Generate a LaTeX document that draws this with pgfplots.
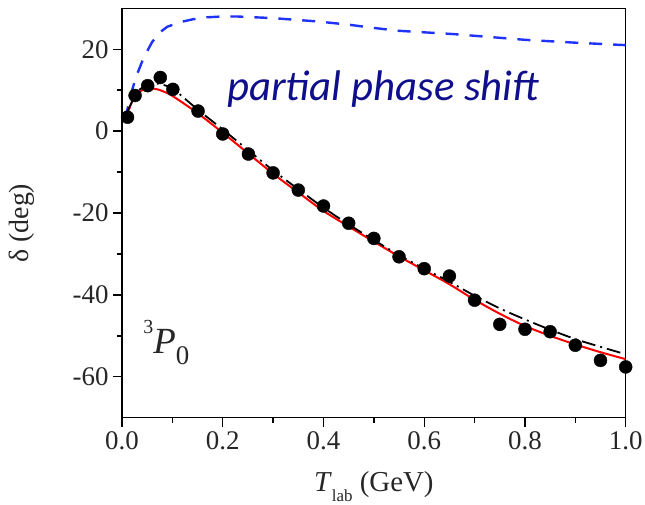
\documentclass[border=0pt]{standalone}
\usepackage{pgfplots}
\pgfplotsset{compat=1.18}
\usepackage{fontspec}
\setmainfont{Liberation Serif}
\newfontfamily\carlito{Carlito}
\definecolor{navy}{RGB}{15,15,140}
\definecolor{dblue}{RGB}{30,50,250}
\begin{document}
\begin{tikzpicture}
\path[use as bounding box] (-122bp,-87.3bp) rectangle (523bp,417.7bp);
\begin{axis}[
  at={(0,0)}, anchor=south west,
  scale only axis, width=503.7bp, height=409.4bp,
  xmin=0, xmax=1, ymin=-70, ymax=30,
  xtick={0,0.2,0.4,0.6,0.8,1.0},
  ytick={-60,-40,-20,0,20},
  xticklabels={0.0,0.2,0.4,0.6,0.8,1.0},
  minor tick num=1,
  tick align=outside, tick pos=left,
  major tick length=9bp, minor tick length=5bp,
  every tick/.style={black, line width=1.4bp},
  axis line style={line width=1.4bp},
  /pgf/number format/assume math mode=true,
  ticklabel style={font=\fontsize{27}{29}\selectfont, text=black!85},
  xticklabel style={yshift=-1bp},
  yticklabel style={xshift=-1bp},
  xlabel={\textit{T}\raisebox{-10bp}{\fontsize{17}{17}\selectfont lab} (GeV)},
  xlabel style={at={(axis description cs:0.5,0)}, anchor=base, yshift=-74bp, font=\fontsize{29}{31}\selectfont, text=black!85},
  ylabel={δ (deg)},
  ylabel style={at={(rel axis cs:-0.1985,0.475)}, anchor=center, rotate=0, font=\fontsize{28}{30}\selectfont, text=black!85},
  clip=true,
]
\addplot[dblue, line width=2.4bp, dash pattern=on 13bp off 11bp] coordinates {
(0.005,3) (0.011,5.4) (0.02,10) (0.029,13.6) (0.04,17) (0.049,19.3) (0.06,21.8)
(0.075,24.1) (0.09,25.5) (0.115,26.6) (0.14,27.3) (0.168,27.8) (0.2,28.0)
(0.228,28.0) (0.3,27.6) (0.387,26.8) (0.45,26.0) (0.5,25.2) (0.55,24.5)
(0.658,23.7) (0.8,22.3) (0.9,21.6) (1.0,21.0)};
\addplot[red, line width=2bp, smooth] coordinates {
(0.01,4) (0.02,7.2) (0.03,9.0) (0.04,10.0) (0.05,10.3) (0.06,10.4) (0.07,10.2)
(0.08,9.8) (0.1,8.6) (0.15,4.4) (0.2,-0.4) (0.25,-5.4) (0.3,-10.4) (0.35,-15.0)
(0.4,-19.5) (0.45,-23.3) (0.5,-27.0) (0.55,-30.6) (0.6,-34.0) (0.65,-37.4)
(0.7,-41.2) (0.75,-44.6) (0.8,-47.6) (0.85,-50.0) (0.9,-52.1) (0.95,-54.0) (1.0,-55.7)};
\addplot[black, line width=1.8bp, smooth, dash pattern=on 14bp off 5bp on 2bp off 5bp] coordinates {
(0.01,4.5) (0.03,9.5) (0.05,11.2) (0.07,11.6) (0.09,11.0) (0.1,10.5) (0.15,5.3)
(0.2,0.4) (0.25,-4.6) (0.3,-9.6) (0.35,-14.2) (0.4,-18.7) (0.45,-22.8) (0.5,-26.6)
(0.55,-30.3) (0.6,-33.6) (0.65,-36.8) (0.7,-40.2) (0.75,-43.3) (0.8,-46.0)
(0.85,-48.5) (0.9,-50.8) (0.95,-52.7) (1.0,-54.5)};
\addplot[only marks, mark=*, mark size=6.5bp, mark options={fill=black, draw=black}] coordinates {
(0.011,3.4) (0.026,8.7) (0.051,11.1) (0.076,13.1) (0.101,10.2) (0.151,4.9)
(0.2,-0.7) (0.251,-5.6) (0.3,-10.2) (0.35,-14.4) (0.4,-18.3) (0.45,-22.5)
(0.5,-26.2) (0.55,-30.7) (0.6,-33.6) (0.65,-35.4) (0.7,-41.3) (0.75,-47.2)
(0.8,-48.4) (0.85,-49.0) (0.9,-52.3) (0.95,-56.0) (1.0,-57.6)};
\node[anchor=base west, inner sep=0pt, text=navy, font=\carlito\itshape\fontsize{43}{46}\selectfont] at (axis cs:0.2085,7.4) {partial phase shift};
\node[anchor=base west, inner sep=0pt, text=black!85, font=\fontsize{37}{40}\selectfont] at (axis cs:0.042,-54.3) {\raisebox{20bp}{\fontsize{20}{20}\selectfont 3}\textit{P}\raisebox{-11bp}{\fontsize{27}{27}\selectfont 0}};
\end{axis}
\end{tikzpicture}
\end{document}
